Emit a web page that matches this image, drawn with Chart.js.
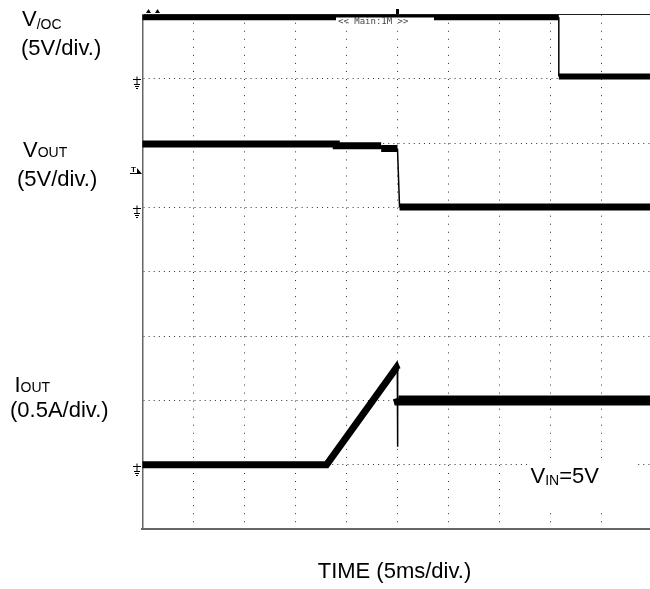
<!DOCTYPE html>
<html>
<head>
<meta charset="utf-8">
<script src="https://cdn.jsdelivr.net/npm/chart.js@4.4.0/dist/chart.umd.min.js"></script>
<style>
  html, body { margin: 0; padding: 0; background: #fff; overflow: hidden; }
  #wrap { width: 660px; height: 589px; }
</style>
</head>
<body>
<div id="wrap"><canvas id="scope" width="660" height="589"></canvas></div>
<script>
// time base: 5 ms/div, 10 divisions
const timeTicks = [0, 5, 10, 15, 20, 25, 30, 35, 40, 45, 50];

// V/OC channel (V)
const vocTime = [0, 40.8, 40.8, 50];
const vocVolts = [4.8, 4.8, 0.2, 0.2];

// VOUT channel (V)
const voutTime = [0, 19.0, 19.0, 23.4, 23.4, 25.0, 25.2, 50];
const voutVolts = [4.95, 4.95, 4.8, 4.8, 4.6, 4.6, 0.05, 0.05];

// IOUT channel (A)
const ioutTime = [0, 18.05, 24.9, 24.98, 25.0, 25.03, 25.1, 50];
const ioutAmps = [0, 0, 0.755, 0.74, 0.14, 0.52, 0.5, 0.5];

// channel setup: ground level (in divisions from bottom) and units per division
const vocGround = 7, vocPerDiv = 5;
const voutGround = 5, voutPerDiv = 5;
const ioutGround = 1, ioutPerDiv = 0.5;

const toDiv = (t, v, ground, perDiv) => t.map((x, i) => ({ x: x, y: ground + v[i] / perDiv }));

// thick noisy band for slow parts, thin line for fast edges
function band(w, times, wAfter) {
  return ctx => {
    const dx = Math.abs(ctx.p1.x - ctx.p0.x);
    const dy = Math.abs(ctx.p1.y - ctx.p0.y);
    if (dy > 6 * dx + 2) return 1.5;
    if (wAfter && times[ctx.p0DataIndex] >= 25) return wAfter;
    return w;
  };
}

const FONT = '"Liberation Sans", Arial, Helvetica, sans-serif';

function subLabel(ctx, x, y, main, sub, drop) {
  ctx.font = '22px ' + FONT;
  ctx.fillText(main, x, y);
  const w = ctx.measureText(main).width;
  ctx.font = '14px ' + FONT;
  ctx.fillText(sub, x + w, y + drop);
  return x + w + ctx.measureText(sub).width;
}

function ground(ctx, y) {
  ctx.beginPath();
  ctx.moveTo(133, y); ctx.lineTo(141, y);
  ctx.moveTo(137, y - 3); ctx.lineTo(137, y + 5);
  ctx.moveTo(134, y + 5); ctx.lineTo(140, y + 5);
  ctx.moveTo(135, y + 7); ctx.lineTo(139, y + 7);
  ctx.moveTo(136, y + 9); ctx.lineTo(138, y + 9);
  ctx.stroke();
}

const scopeText = {
  id: 'scopeText',
  beforeDatasetsDraw(chart) {
    const ctx = chart.ctx;
    ctx.save();
    ctx.fillStyle = '#fff';
    ctx.fillRect(527, 460, 110, 51); // box behind VIN label
    ctx.restore();
  },
  afterDatasetsDraw(chart) {
    const ctx = chart.ctx;
    ctx.save();
    ctx.fillStyle = '#fff';
    ctx.fillRect(336, 17.5, 98, 6);
    ctx.fillStyle = '#444';
    ctx.font = '9px "DejaVu Sans Mono", monospace';
    ctx.fillText('<< Main:1M >>', 338, 24);
    ctx.restore();
  },
  afterDraw(chart) {
    const ctx = chart.ctx;
    const area = chart.chartArea;
    const ys = chart.scales.y;
    ctx.save();
    ctx.fillStyle = '#000';
    ctx.textBaseline = 'alphabetic';

    subLabel(ctx, 22, 26, 'V', '/OC', 3);
    ctx.font = '22px ' + FONT;
    ctx.fillText('(5V/div.)', 21, 55);

    subLabel(ctx, 23, 157, 'V', 'OUT', 0);
    ctx.font = '22px ' + FONT;
    ctx.fillText('(5V/div.)', 17, 186);

    subLabel(ctx, 14.5, 391.5, 'I', 'OUT', 0);
    ctx.font = '22px ' + FONT;
    ctx.fillText('(0.5A/div.)', 10, 417);

    const end = subLabel(ctx, 530.5, 483, 'V', 'IN', 2);
    ctx.font = '22px ' + FONT;
    ctx.fillText('=5V', end, 483);

    ctx.font = '22px ' + FONT;
    ctx.textAlign = 'center';
    ctx.fillText('TIME (5ms/div.)', (area.left + area.right) / 2 - 3, 578);
    ctx.textAlign = 'left';

    // ground markers
    ctx.strokeStyle = '#000';
    ctx.lineWidth = 1;
    ground(ctx, Math.round(ys.getPixelForValue(vocGround)) + 0.5);
    ground(ctx, Math.round(ys.getPixelForValue(voutGround)) + 0.5);
    ground(ctx, Math.round(ys.getPixelForValue(ioutGround)) + 1.5);

    // trigger level marker
    ctx.font = 'bold 8px ' + FONT;
    ctx.fillText('T', 131, 172);
    ctx.beginPath();
    ctx.moveTo(130, 173.5); ctx.lineTo(137, 173.5);
    ctx.stroke();
    ctx.beginPath();
    ctx.moveTo(137, 168); ctx.lineTo(142, 174); ctx.lineTo(137, 174);
    ctx.closePath(); ctx.fill();

    // top markers
    ctx.beginPath();
    ctx.moveTo(146, 13); ctx.lineTo(148.5, 9); ctx.lineTo(151, 13);
    ctx.moveTo(155, 13); ctx.lineTo(157.5, 9); ctx.lineTo(160, 13);
    ctx.fill();
    const trigX = chart.scales.x.getPixelForValue(25);
    ctx.fillRect(trigX - 1.5, 9, 3, 5);
    ctx.restore();
  }
};

new Chart(document.getElementById('scope'), {
  type: 'line',
  data: {
    datasets: [
      {
        data: toDiv(vocTime, vocVolts, vocGround, vocPerDiv),
        borderColor: '#000', borderWidth: 6,
        segment: { borderWidth: band(6, vocTime) }
      },
      {
        data: toDiv(voutTime, voutVolts, voutGround, voutPerDiv),
        borderColor: '#000', borderWidth: 7,
        segment: { borderWidth: band(7, voutTime) }
      },
      {
        data: toDiv(ioutTime, ioutAmps, ioutGround, ioutPerDiv),
        borderColor: '#000', borderWidth: 7,
        segment: { borderWidth: band(7, ioutTime, 10) }
      }
    ]
  },
  options: {
    responsive: false,
    animation: false,
    events: [],
    layout: { padding: { left: 142.25, right: 7.25, top: 14.7, bottom: 60 } },
    elements: { point: { radius: 0 }, line: { tension: 0, borderJoinStyle: 'miter' } },
    plugins: { legend: { display: false }, tooltip: { enabled: false } },
    scales: {
      x: {
        type: 'linear', min: timeTicks[0], max: timeTicks[timeTicks.length - 1],
        afterBuildTicks: s => { s.ticks = timeTicks.map(v => ({ value: v })); },
        ticks: { display: false },
        grid: { color: '#333', lineWidth: 1, drawTicks: false },
        border: { color: '#666', width: 2, dash: [1, 7.04] }
      },
      y: {
        min: 0, max: 8,
        ticks: { display: false, stepSize: 1 },
        grid: {
          color: c => (c.tick && c.tick.value === 8 ? '#222' : '#333'),
          lineWidth: 1, drawTicks: false
        },
        border: {
          color: '#666', width: 1.5,
          dash: c => (c.tick && c.tick.value === 8 ? [] : [1, 4.1])
        }
      }
    }
  },
  plugins: [scopeText]
});
</script>
</body>
</html>
